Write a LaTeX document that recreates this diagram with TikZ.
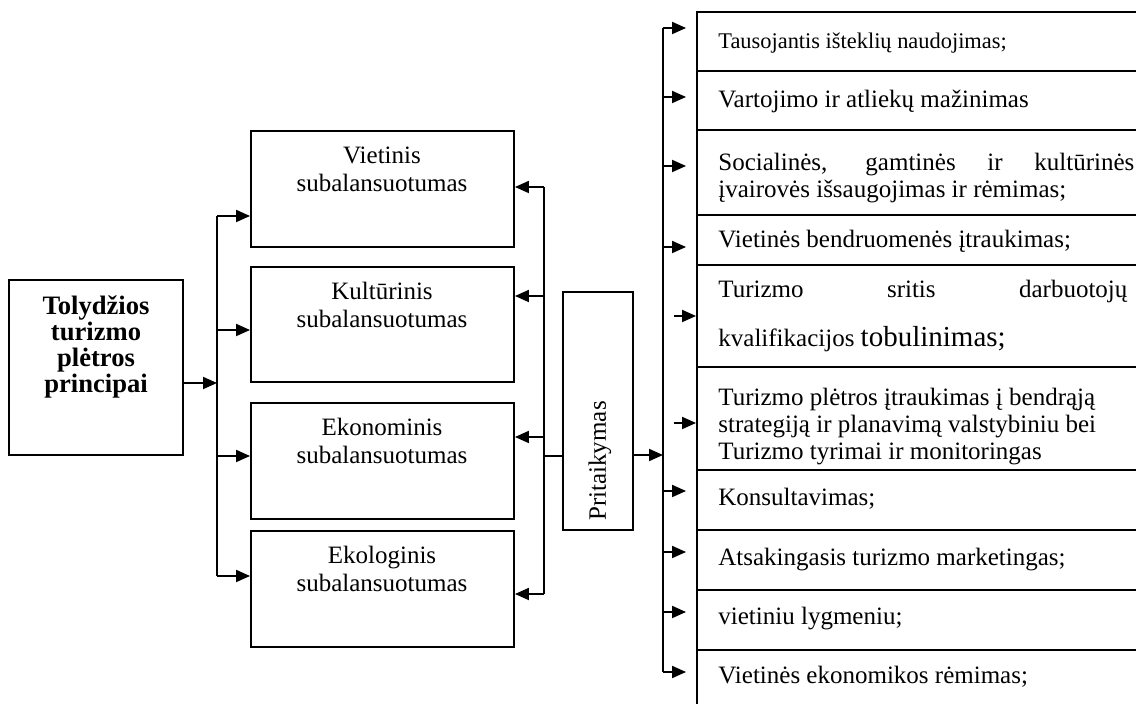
\documentclass[tikz,border=0pt]{standalone}
\usepackage{fontspec}
\setmainfont{Liberation Serif}
\usetikzlibrary{arrows.meta,fit}
\begin{document}
\begin{tikzpicture}[x=0.5pt,y=-0.5pt,
  box/.style={draw, line width=0.95pt, inner sep=0pt},
  ln/.style={line width=0.95pt},
  arr/.style={line width=0.95pt, -{Triangle[length=7pt,width=6pt]}},
  ltxt/.style={font=\bfseries\fontsize{13.3}{13}\selectfont, align=center, inner sep=0pt, anchor=base},
  mtxt/.style={font=\fontsize{12.5}{14.2}\selectfont, align=center, inner sep=0pt, anchor=base},
  rtxt/.style={font=\fontsize{12.5}{13.5}\selectfont, inner sep=0pt, anchor=base west, align=left},
]
\useasboundingbox (0,0) rectangle (1136,704);
\clip (0,0) rectangle (1136,704);

% left box
\node[box, fit={(9,280)(183,455)}] (L) {};
\node[ltxt] (Lt) at (96,393) {Tolydžios\\turizmo\\plėtros\\principai};

% middle boxes
\node[box, fit={(251,131)(514,247)}] (V1) {};
\node[box, fit={(251,267)(514,382)}] (V2) {};
\node[box, fit={(251,403)(514,519)}] (V3) {};
\node[box, fit={(251,531)(514,647)}] (V4) {};
\node[mtxt] (V1t) at (382,192) {Vietinis\\subalansuotumas};
\node[mtxt] (V2t) at (382,328) {Kultūrinis\\subalansuotumas};
\node[mtxt] (V3t) at (382,464) {Ekonominis\\subalansuotumas};
\node[mtxt] (V4t) at (382,592) {Ekologinis\\subalansuotumas};

% Pritaikymas
\node[box, fit={(563,292)(633,530)}] (P) {};
\node[font=\fontsize{12.5}{14}\selectfont, rotate=90, inner sep=0pt] (Pt) at (600,461) {Pritaikymas};

% right rows
\node[box, fit={(697,12)(1150,71)}] (R1) {};
\node[box, fit={(697,71)(1150,130)}] (R2) {};
\node[box, fit={(697,130)(1150,215)}] (R3) {};
\node[box, fit={(697,215)(1150,265)}] (R4) {};
\node[box, fit={(697,265)(1150,367)}] (R5) {};
\node[box, fit={(697,367)(1150,470)}] (R6) {};
\node[box, fit={(697,470)(1150,530)}] (R7) {};
\node[box, fit={(697,530)(1150,590)}] (R8) {};
\node[box, fit={(697,590)(1150,650)}] (R9) {};
\node[box, fit={(697,650)(1150,720)}] (R10) {};

\node[rtxt, font=\fontsize{11.2}{13}\selectfont] (R1t) at (718,49) {Tausojantis išteklių naudojimas;};
\node[rtxt] (R2t) at (718,108) {Vartojimo ir atliekų mažinimas};
\node[rtxt] (R3t) at (718,198) {\makebox[208pt][s]{Socialinės, gamtinės ir kultūrinės}\\įvairovės išsaugojimas ir rėmimas;};
\node[rtxt] (R4t) at (718,248) {Vietinės bendruomenės įtraukimas;};
\node[rtxt] (R5a) at (718,298) {\makebox[204.5pt][s]{Turizmo sritis darbuotojų}};
\node[rtxt] (R5b) at (718,347) {kvalifikacijos {\fontsize{14.5}{16}\selectfont tobulinimas;}};
\node[rtxt] (R6t) at (718,460) {Turizmo plėtros įtraukimas į bendrąją\\strategiją ir planavimą valstybiniu bei\\Turizmo tyrimai ir monitoringas};
\node[rtxt] (R7t) at (718,506) {Konsultavimas;};
\node[rtxt] (R8t) at (718,566) {Atsakingasis turizmo marketingas;};
\node[rtxt] (R9t) at (718,625) {vietiniu lygmeniu;};
\node[rtxt] (R10t) at (718,684) {Vietinės ekonomikos rėmimas;};

% left connectors
\coordinate (j1) at (217,383);
\coordinate (t1) at (217,216);
\coordinate (t2) at (217,330);
\coordinate (t3) at (217,456);
\coordinate (t4) at (217,576);
\draw[arr] (L.east |- j1) -- (j1);
\draw[ln] (t1) -- (t4);
\draw[arr] (t1) -- (t1 -| V1.west);
\draw[arr] (t2) -- (t2 -| V2.west);
\draw[arr] (t3) -- (t3 -| V3.west);
\draw[arr] (t4) -- (t4 -| V4.west);

% middle-right connectors
\coordinate (r1) at (544,187);
\coordinate (r2) at (544,296);
\coordinate (r3) at (544,437);
\coordinate (r4) at (544,594);
\coordinate (pj) at (544,456);
\draw[ln] (r1) -- (r4);
\draw[arr] (r1) -- (r1 -| V1.east);
\draw[arr] (r2) -- (r2 -| V2.east);
\draw[arr] (r3) -- (r3 -| V3.east);
\draw[arr] (r4) -- (r4 -| V4.east);
\draw[ln] (pj) -- (pj -| P.west);

% right trunk
\coordinate (q0) at (663,455);
\coordinate (q1) at (663,28);
\coordinate (q2) at (663,97);
\coordinate (q3) at (663,166);
\coordinate (q4) at (663,247);
\coordinate (q5) at (663,491);
\coordinate (q6) at (663,552);
\coordinate (q7) at (663,612);
\coordinate (q8) at (663,672);
\coordinate (f1) at (674,316);
\coordinate (f2) at (674,423);
\draw[arr] (q0 -| P.east) -- (q0);
\draw[ln] (q1) -- (q8);
\draw[arr, shorten >=5pt] (q1) -- (q1 -| R1.west);
\draw[arr, shorten >=5pt] (q2) -- (q2 -| R2.west);
\draw[arr, shorten >=5pt] (q3) -- (q3 -| R3.west);
\draw[arr, shorten >=5pt] (q4) -- (q4 -| R4.west);
\draw[arr, shorten >=5pt] (q5) -- (q5 -| R7.west);
\draw[arr, shorten >=5pt] (q6) -- (q6 -| R8.west);
\draw[arr, shorten >=5pt] (q7) -- (q7 -| R9.west);
\draw[arr, shorten >=5pt] (q8) -- (q8 -| R10.west);
\draw[arr] (f1) -- (f1 -| R5.west);
\draw[arr] (f2) -- (f2 -| R6.west);
\end{tikzpicture}
\end{document}
